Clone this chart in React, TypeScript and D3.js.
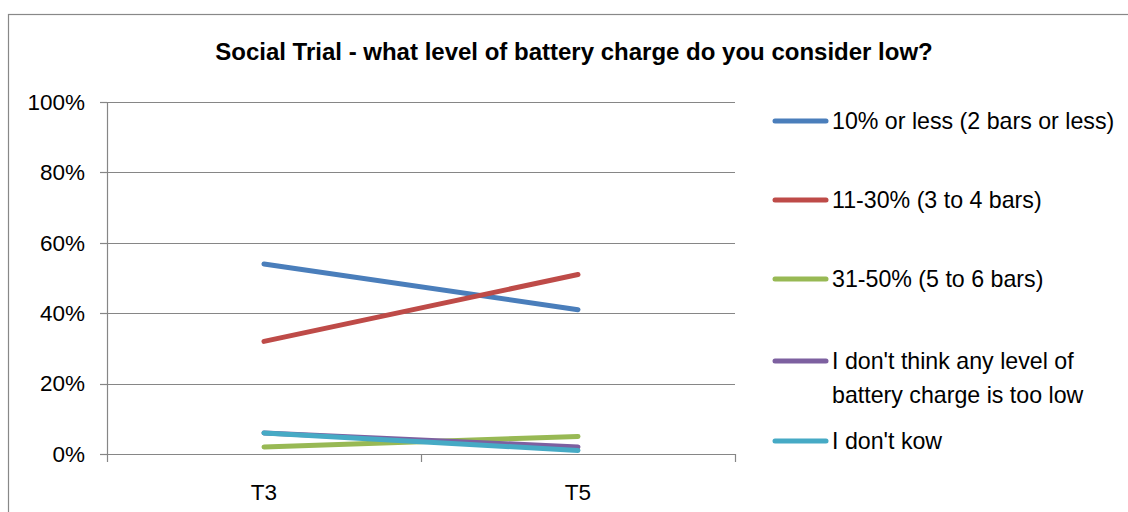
import React from "react";
import * as d3 from "d3";

const title = "Social Trial - what level of battery charge do you consider low?";
const categories = ["T3", "T5"];
const seriesNames = [
  ["10% or less (2 bars or less)"],
  ["11-30% (3 to 4 bars)"],
  ["31-50% (5 to 6 bars)"],
  ["I don't think any level of", "battery charge is too low"],
  ["I don't kow"],
];
const seriesValues = [
  [54, 41],
  [32, 51],
  [2, 5],
  [6, 2],
  [6, 1],
];
const seriesColors = ["#4A7EBB", "#BE4B48", "#98B954", "#7D60A0", "#46AAC5"];
const yTicks = [0, 20, 40, 60, 80, 100];

const W = 1128;
const H = 512;
const plot = { left: 107, right: 735, top: 102, bottom: 454 };
const font = "'Liberation Sans', Arial, sans-serif";
const legendY = [121, 200, 279, 361, 441];

export default function App() {
  const x = d3.scaleBand<string>().domain(categories).range([plot.left, plot.right]);
  const y = d3.scaleLinear().domain([0, 100]).range([plot.bottom, plot.top]);
  const line = d3
    .line<number>()
    .x((_, i) => (x(categories[i]) as number) + x.bandwidth() / 2)
    .y((d) => y(d));
  const grid = "#868686";
  const xTicks = [plot.left, ...categories.map((c) => (x(c) as number) + x.bandwidth())];

  return (
    <svg
      width={W}
      height={H}
      style={{ position: "absolute", left: 0, top: 0, background: "#fff" }}
      fontFamily={font}
    >
      <rect x={8.5} y={14.5} width={1300} height={700} fill="#fff" stroke="#888" strokeWidth={1.2} />
      <text x={574} y={60} textAnchor="middle" fontWeight="bold" fontSize={24} fill="#000">
        {title}
      </text>
      {yTicks.map((t) => (
        <g key={t}>
          <line x1={plot.left} x2={plot.right} y1={Math.round(y(t)) + 0.5} y2={Math.round(y(t)) + 0.5} stroke={grid} strokeWidth={1.2} />
          <line x1={plot.left - 7} x2={plot.left} y1={Math.round(y(t)) + 0.5} y2={Math.round(y(t)) + 0.5} stroke={grid} strokeWidth={1.2} />
          <text x={85} y={y(t)} dy="0.35em" textAnchor="end" fontSize={22.5} fill="#000">
            {t + "%"}
          </text>
        </g>
      ))}
      <line x1={plot.left + 0.5} x2={plot.left + 0.5} y1={plot.top} y2={plot.bottom} stroke={grid} strokeWidth={1.2} />
      {xTicks.map((t, i) => (
        <line key={i} x1={Math.round(t) + 0.5} x2={Math.round(t) + 0.5} y1={plot.bottom} y2={plot.bottom + 8} stroke={grid} strokeWidth={1.2} />
      ))}
      {categories.map((c) => (
        <text key={c} x={(x(c) as number) + x.bandwidth() / 2} y={500} textAnchor="middle" fontSize={22.5} fill="#000">
          {c}
        </text>
      ))}
      {seriesValues.map((vals, i) => (
        <path key={i} d={line(vals) as string} fill="none" stroke={seriesColors[i]} strokeWidth={5} strokeLinecap="round" />
      ))}
      {seriesNames.map((lines, i) => (
        <g key={i}>
          <line x1={775} x2={826} y1={legendY[i]} y2={legendY[i]} stroke={seriesColors[i]} strokeWidth={5} strokeLinecap="round" />
          {lines.map((l, j) => (
            <text key={j} x={832} y={legendY[i] + 8 + j * 34} fontSize={23.2} fill="#000">
              {l}
            </text>
          ))}
        </g>
      ))}
    </svg>
  );
}
